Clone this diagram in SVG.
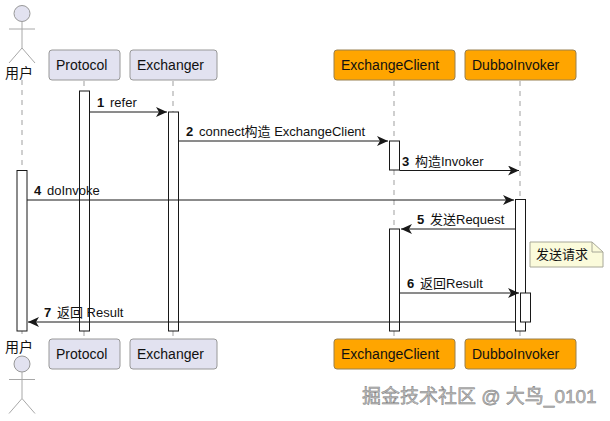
<svg xmlns="http://www.w3.org/2000/svg" width="610" height="421" viewBox="0 0 610 421">
<style>
text{font-family:"Liberation Sans","Noto Sans CJK SC",sans-serif;font-size:13px;fill:#111}
.num{font-weight:bold}
.life{stroke:#bbb;stroke-width:1.4;stroke-dasharray:5 5;fill:none}
.act{fill:#fff;stroke:#181818;stroke-width:1}
.msg{stroke:#181818;stroke-width:1;fill:none;marker-end:url(#ah)}
.box{fill:#E2E2F0;stroke:#989898;stroke-width:1}
.org{fill:#FFA500;stroke:#988050;stroke-width:1}
.actor{fill:none;stroke:#a8a8a8;stroke-width:1}
.head{fill:#E2E2F0;stroke:#989898;stroke-width:1}
.t{font-size:14px}
</style>
<defs>
<marker id="ah" markerUnits="userSpaceOnUse" markerWidth="12" markerHeight="10" refX="11" refY="5" orient="auto">
<path d="M0,0 L11,5 L0,10 L3,5 Z" fill="#181818"/>
</marker>
<g id="fig">
<circle class="head" cx="22" cy="13.5" r="8"/>
<path class="actor" d="M22,21.5V48M9,29H35M9,63L22,48L35,63"/>
</g>
</defs>
<g id="lifelines">
<path class="life" d="M22,80V170M22,331V334"/>
<path class="life" d="M84,81V91M84,331V338"/>
<path class="life" d="M173,81V112M173,331V338"/>
<path class="life" d="M394,81V141M394,170V229M394,331V338"/>
<path class="life" d="M520,81V199M520,331V338"/>
</g>
<g id="activations">
<rect class="act" x="79.5" y="91" width="10" height="240"/>
<rect class="act" x="168.5" y="112" width="10" height="219"/>
<rect class="act" x="17" y="170.500" width="10" height="160.500"/>
<rect class="act" x="389.500" y="141" width="10" height="29"/>
<rect class="act" x="389.500" y="229" width="10" height="102"/>
<rect class="act" x="515.500" y="199.500" width="10" height="131.500"/>
<rect class="act" x="520.500" y="293" width="10" height="29"/>
</g>
<g id="connectors">
<path class="msg" d="M89.500,112H167"/>
<path class="msg" d="M178.500,141H388"/>
<path class="msg" d="M399.500,170.500H519"/>
<path class="msg" d="M27,200H514"/>
<path class="msg" d="M515.500,229H401"/>
<path class="msg" d="M399.500,293H519"/>
<path class="msg" d="M515.500,322H28"/>
</g>
<g id="labels">
<text x="97" y="107" class="num">1</text><text x="110" y="107">refer</text>
<text x="186" y="136" class="num">2</text><text x="199" y="136">connect构造 ExchangeClient</text>
<text x="402" y="166" class="num">3</text><text x="415" y="166">构造Invoker</text>
<text x="34" y="195" class="num">4</text><text x="47" y="195">doInvoke</text>
<text x="417" y="224" class="num">5</text><text x="430" y="224">发送Request</text>
<text x="407" y="288" class="num">6</text><text x="420" y="288">返回Result</text>
<text x="44" y="317" class="num">7</text><text x="57" y="317">返回 Result</text>
</g>
<g id="note">
<path d="M530,242H592L603,252V267H530Z" fill="#FBFBDB" stroke="#a8a898" stroke-width="1"/>
<path d="M592,242V252H603" fill="none" stroke="#a8a898" stroke-width="1"/>
<text x="536" y="259">发送请求</text>
</g>
<g id="actor-top"><use href="#fig"/><text x="5" y="78" class="t">用户</text></g>
<g id="actor-bottom"><use href="#fig" y="350.500"/><text x="5" y="352" class="t">用户</text></g>
<g id="protocol-top"><rect class="box" x="49" y="50" width="71" height="30" rx="3"/><text x="56" y="70" class="t">Protocol</text></g>
<g id="exchanger-top"><rect class="box" x="130" y="50" width="87" height="30" rx="3"/><text x="137" y="70" class="t">Exchanger</text></g>
<g id="exchangeclient-top"><rect class="org" x="334" y="50" width="121" height="30" rx="3"/><text x="341" y="70" class="t">ExchangeClient</text></g>
<g id="dubboinvoker-top"><rect class="org" x="465" y="50" width="111" height="30" rx="3"/><text x="472" y="70" class="t">DubboInvoker</text></g>
<g id="protocol-bottom"><rect class="box" x="49" y="339" width="71" height="30" rx="3"/><text x="56" y="359" class="t">Protocol</text></g>
<g id="exchanger-bottom"><rect class="box" x="130" y="339" width="87" height="30" rx="3"/><text x="137" y="359" class="t">Exchanger</text></g>
<g id="exchangeclient-bottom"><rect class="org" x="334" y="339" width="121" height="30" rx="3"/><text x="341" y="359" class="t">ExchangeClient</text></g>
<g id="dubboinvoker-bottom"><rect class="org" x="465" y="339" width="111" height="30" rx="3"/><text x="472" y="359" class="t">DubboInvoker</text></g>
<text id="watermark" x="362" y="403" style="font-size:19px;fill:#bdbdbd;stroke:#808080;stroke-width:.5">掘金技术社区 @ 大鸟_0101</text>
</svg>
